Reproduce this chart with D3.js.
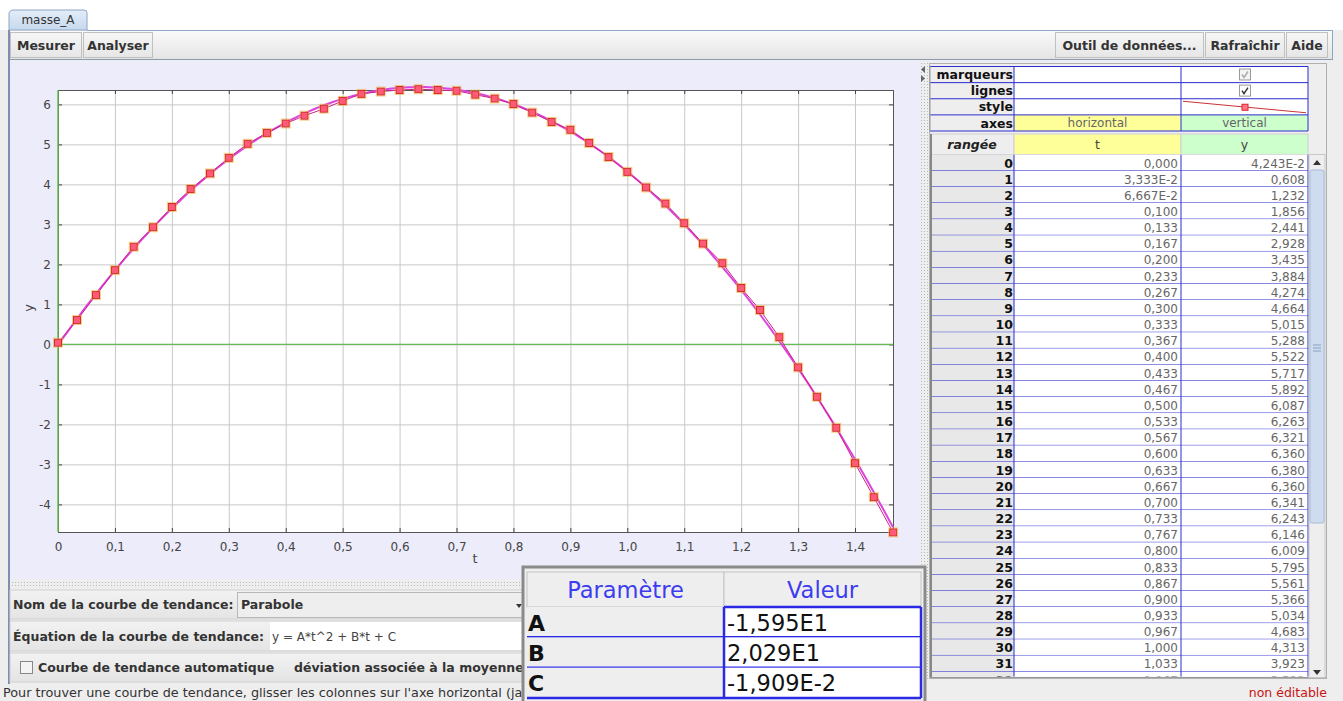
<!DOCTYPE html>
<html><head><meta charset="utf-8">
<script src="https://cdn.jsdelivr.net/npm/d3@7"></script>
<style>
body{margin:0;background:#fff;overflow:hidden}
svg{display:block;font-family:"DejaVu Sans",sans-serif}
</style></head><body>
<svg id="c" width="1343" height="701"></svg>
<script>
// ---------------- data ----------------
const tValues = [0,0.03333,0.06667,0.100,0.133,0.167,0.200,0.233,0.267,0.300,0.333,0.367,0.400,0.433,0.467,0.500,0.533,0.567,0.600,0.633,0.667,0.700,0.733,0.767,0.800,0.833,0.867,0.900,0.933,0.967,1.000,1.033,1.067,1.100,1.133,1.167,1.200,1.233,1.267,1.300,1.333,1.367,1.400,1.433,1.467];
const yValues = [0.04243,0.608,1.232,1.856,2.441,2.928,3.435,3.884,4.274,4.664,5.015,5.288,5.522,5.717,5.892,6.087,6.263,6.321,6.360,6.380,6.360,6.341,6.243,6.146,6.009,5.795,5.561,5.366,5.034,4.683,4.313,3.923,3.522,3.030,2.520,2.030,1.410,0.860,0.180,-0.575,-1.310,-2.085,-2.970,-3.820,-4.700];
const xTicks = [0,0.1,0.2,0.3,0.4,0.5,0.6,0.7,0.8,0.9,1.0,1.1,1.2,1.3,1.4];
const xTickLabels = ["0","0,1","0,2","0,3","0,4","0,5","0,6","0,7","0,8","0,9","1,0","1,1","1,2","1,3","1,4"];
const yTicks = [-4,-3,-2,-1,0,1,2,3,4,5,6];
const yTickLabels = ["-4","-3","-2","-1","0","1","2","3","4","5","6"];
const paramNames = ["A","B","C"];
const paramValues = [-15.95, 20.29, -0.01909];
const headerRows = ["marqueurs","lignes","style","axes"];

// ---------------- helpers ----------------
function fmtE(v){
  const e = Math.floor(Math.log10(Math.abs(v)));
  let m = v/Math.pow(10,e);
  return m.toFixed(3).replace(".",",")+"E"+e;
}
function fmtCell(v){
  if(v===0) return "0,000";
  if(Math.abs(v)<0.1) return fmtE(v);
  return v.toFixed(3).replace(".",",");
}

const svg = d3.select("#c");
const defs = svg.append("defs");
function grad(id, c1, c2){
  const g = defs.append("linearGradient").attr("id",id).attr("x1",0).attr("y1",0).attr("x2",0).attr("y2",1);
  g.append("stop").attr("offset","0%").attr("stop-color",c1);
  g.append("stop").attr("offset","100%").attr("stop-color",c2);
}
grad("gTab","#e3edf8","#c6d9ee");
grad("gBar","#fafafa","#e4e4e4");
grad("gBtn","#f6f6f6","#e6e6e6");
grad("gRow","#f2f2f2","#e4e4e4");
const dots = defs.append("pattern").attr("id","dots").attr("width",3).attr("height",3).attr("patternUnits","userSpaceOnUse");
dots.append("rect").attr("width",3).attr("height",3).attr("fill","#eeeeee");
dots.append("rect").attr("width",1).attr("height",1).attr("fill","#b8b8b8");

// ---------------- window background ----------------
svg.append("rect").attr("width",1343).attr("height",701).attr("fill","#eeeeee");
svg.append("rect").attr("width",1343).attr("height",30).attr("fill","#ffffff");

// tab
svg.append("path").attr("d","M9,30 L9,14 Q9,10 14,10 L84,10 Q87,10 87,13 L87,30 Z")
  .attr("fill","url(#gTab)").attr("stroke","#8ea6c6");
svg.append("text").attr("x",48).attr("y",24).attr("text-anchor","middle")
  .attr("font-size",12).attr("fill","#333").text("masse_A");
svg.append("line").attr("x1",87).attr("x2",1333).attr("y1",30.5).attr("y2",30.5).attr("stroke","#8ea6c6");

// toolbar
svg.append("rect").attr("x",9).attr("y",31).attr("width",1323).attr("height",28).attr("fill","url(#gBar)");
svg.append("line").attr("x1",9).attr("x2",1332).attr("y1",59.5).attr("y2",59.5).attr("stroke","#8c9ab0");
const buttons = [["Mesurer",10,81],["Analyser",83,152],["Outil de données...",1055,1203],["Rafraîchir",1205,1284],["Aide",1286,1327]];
buttons.forEach(b=>{
  svg.append("rect").attr("x",b[1]+0.5).attr("y",32.5).attr("width",b[2]-b[1]).attr("height",25)
    .attr("fill","url(#gBtn)").attr("stroke","#c0c0c0");
  svg.append("text").attr("x",(b[1]+b[2])/2+0.5).attr("y",50).attr("text-anchor","middle")
    .attr("font-size",12.5).attr("font-weight","bold").attr("fill","#333").text(b[0]);
});
svg.append("line").attr("x1",1332.5).attr("x2",1332.5).attr("y1",30).attr("y2",60).attr("stroke","#8ea6c6");

// left frame line
svg.append("line").attr("x1",9).attr("x2",9).attr("y1",30).attr("y2",684).attr("stroke","#7e8eb0").attr("stroke-width",2);

// ---------------- plot panel ----------------
svg.append("rect").attr("x",10).attr("y",61).attr("width",910).attr("height",518).attr("fill","#ececfa");
const L=58, R=893, T=90, B=532;
const x = d3.scaleLinear().domain([0,1.4667]).range([L,R]);
const y = d3.scaleLinear().domain([-4.69,6.36]).range([B,T]);
svg.append("rect").attr("x",L).attr("y",T).attr("width",R-L).attr("height",B-T).attr("fill","#fff");

// grid
svg.append("g").attr("transform",`translate(0,${B})`)
  .call(d3.axisBottom(x).tickValues(xTicks.slice(1)).tickSize(-(B-T)).tickFormat(""))
  .call(g=>{g.select(".domain").remove();g.selectAll("line").attr("stroke","#c8c8c8");});
svg.append("g").attr("transform",`translate(${L},0)`)
  .call(d3.axisLeft(y).tickValues(yTicks).tickSize(-(R-L)).tickFormat(""))
  .call(g=>{g.select(".domain").remove();g.selectAll("line").attr("stroke","#c8c8c8");});

// axes with labels (inward ticks)
const axB = svg.append("g").attr("transform",`translate(0,${B})`)
  .call(d3.axisBottom(x).tickValues(xTicks).tickSize(-4).tickPadding(10).tickFormat((d,i)=>xTickLabels[i]));
const axL = svg.append("g").attr("transform",`translate(${L},0)`)
  .call(d3.axisLeft(y).tickValues(yTicks).tickSize(-4).tickPadding(7).tickFormat((d,i)=>yTickLabels[i]));
const axT = svg.append("g").attr("transform",`translate(0,${T})`)
  .call(d3.axisTop(x).tickValues(xTicks).tickSize(-4).tickFormat(""));
const axR = svg.append("g").attr("transform",`translate(${R},0)`)
  .call(d3.axisRight(y).tickValues(yTicks).tickSize(-4).tickFormat(""));
[axB,axL,axT,axR].forEach(g=>{
  g.select(".domain").attr("stroke","#555");
  g.selectAll(".tick line").attr("stroke","#444");
  g.selectAll("text").attr("font-family","DejaVu Sans").attr("font-size",12).attr("fill","#444");
});
// zero lines (green)
svg.append("line").attr("x1",x(0)).attr("x2",x(0)).attr("y1",T).attr("y2",B).attr("stroke","#66bb55").attr("stroke-width",1.5);
svg.append("line").attr("x1",L).attr("x2",R).attr("y1",y(0)).attr("y2",y(0)).attr("stroke","#66bb55").attr("stroke-width",1.2);

// axis titles
svg.append("text").attr("x",475).attr("y",563).attr("text-anchor","middle").attr("font-size",13).attr("fill","#444").text("t");
svg.append("text").attr("transform","translate(33,308) rotate(-90)").attr("text-anchor","middle").attr("font-size",13).attr("fill","#444").text("y");

// data + fit
const pts = tValues.map((t,i)=>[t,yValues[i]]);
const fitT = d3.range(0,1.4667+1e-9,1.4667/200);
const fitPts = fitT.map(t=>[t,paramValues[0]*t*t+paramValues[1]*t+paramValues[2]]);
const line = d3.line().x(d=>x(d[0])).y(d=>y(d[1]));
svg.append("path").attr("d",line(fitPts)).attr("fill","none").attr("stroke","#dd44dd").attr("stroke-width",2);
svg.append("path").attr("d",line(pts)).attr("fill","none").attr("stroke","#cc2288").attr("stroke-width",1);
svg.append("g").selectAll("rect").data(pts).join("rect")
  .attr("x",d=>x(d[0])-3.5).attr("y",d=>y(d[1])-3.5).attr("width",7).attr("height",7)
  .attr("fill","#ff5a78").attr("stroke","#d0302a").attr("stroke-width",1);
svg.append("g").selectAll("rect").data(pts).join("rect")
  .attr("x",d=>x(d[0])-4.5).attr("y",d=>y(d[1])-4.5).attr("width",9).attr("height",9)
  .attr("fill","none").attr("stroke","#f0b040").attr("stroke-opacity",0.6).attr("stroke-width",1);

// ---------------- divider strips ----------------
svg.append("rect").attr("x",920).attr("y",61).attr("width",8).attr("height",620).attr("fill","url(#dots)");
svg.append("path").attr("d","M925,66 L921,69.5 L925,73 Z").attr("fill","#666");
svg.append("path").attr("d","M921,75 L925,78.5 L921,82 Z").attr("fill","#666");
svg.append("rect").attr("x",10).attr("y",580).attr("width",512).attr("height",6).attr("fill","url(#dots)");

// ---------------- bottom panel ----------------
svg.append("rect").attr("x",10).attr("y",590).attr("width",513).attr("height",29).attr("fill","url(#gRow)").attr("stroke","#d0d0d0");
svg.append("text").attr("x",13).attr("y",609).attr("font-size",12.5).attr("font-weight","bold").attr("fill","#333").text("Nom de la courbe de tendance:");
svg.append("rect").attr("x",237.5).attr("y",592.5).attr("width",290).attr("height",25).attr("fill","#eeeeee").attr("stroke","#b8b8b8");
svg.append("text").attr("x",241).attr("y",609).attr("font-size",12.5).attr("font-weight","bold").attr("fill","#333").text("Parabole");
svg.append("path").attr("d","M516,604 L522,604 L519,608 Z").attr("fill","#333");

svg.append("rect").attr("x",10).attr("y",621).attr("width",513).attr("height",30).attr("fill","url(#gRow)").attr("stroke","#d0d0d0");
svg.append("text").attr("x",13).attr("y",641).attr("font-size",12.5).attr("font-weight","bold").attr("fill","#333").text("Équation de la courbe de tendance:");
svg.append("rect").attr("x",270).attr("y",622).attr("width",258).attr("height",28).attr("fill","#ffffff");
svg.append("text").attr("x",272).attr("y",641).attr("font-size",12).attr("fill","#444").text("y = A*t^2 + B*t + C");

svg.append("rect").attr("x",10).attr("y",653).attr("width",513).attr("height",29).attr("fill","url(#gRow)").attr("stroke","#d0d0d0");
svg.append("rect").attr("x",20.5).attr("y",661.5).attr("width",12).attr("height",12).attr("fill","#f4f4f4").attr("stroke","#888");
svg.append("text").attr("x",38).attr("y",672).attr("font-size",12.5).attr("font-weight","bold").attr("fill","#333").text("Courbe de tendance automatique");
svg.append("text").attr("x",294).attr("y",672).attr("font-size",12.5).attr("font-weight","bold").attr("fill","#333").text("déviation associée à la moyenne");

svg.append("rect").attr("x",0).attr("y",684).attr("width",930).attr("height",17).attr("fill","#eeeeee");
svg.append("text").attr("x",3).attr("y",697).attr("font-size",12.8).attr("fill","#333").text("Pour trouver une courbe de tendance, glisser les colonnes sur l'axe horizontal (ja");

// ---------------- parameter table ----------------
const pt = svg.append("g");
pt.append("rect").attr("x",523).attr("y",567).attr("width",402).attr("height",136).attr("fill","#eeeeee").attr("stroke","#8a8a8a").attr("stroke-width",3);
const pc0=527, pc1=724, pc2=921;
pt.append("rect").attr("x",pc0).attr("y",572).attr("width",pc1-pc0).attr("height",35).attr("fill","#eeeeee").attr("stroke","#c4c4c4");
pt.append("rect").attr("x",pc1).attr("y",572).attr("width",pc2-pc1).attr("height",35).attr("fill","#eeeeee").attr("stroke","#c4c4c4");
pt.append("text").attr("x",(pc0+pc1)/2).attr("y",598).attr("text-anchor","middle").attr("font-size",22.5).attr("fill","#3c3cf0").text("Paramètre");
pt.append("text").attr("x",(pc1+pc2)/2).attr("y",598).attr("text-anchor","middle").attr("font-size",22.5).attr("fill","#3c3cf0").text("Valeur");
const prow = d3.scaleBand().domain(paramNames).range([607,698]);
paramNames.forEach((n,i)=>{
  const yy = prow(n), h = prow.bandwidth();
  pt.append("rect").attr("x",pc0).attr("y",yy).attr("width",pc1-pc0).attr("height",h).attr("fill","#eeeeee");
  pt.append("rect").attr("x",pc1).attr("y",yy).attr("width",pc2-pc1).attr("height",h).attr("fill","#ffffff");
  pt.append("text").attr("x",pc0+1).attr("y",yy+h/2+8.5).attr("font-size",22).attr("font-weight","bold").attr("fill","#111").text(n);
  pt.append("text").attr("x",pc1+3).attr("y",yy+h/2+8.5).attr("font-size",22.5).attr("fill","#111").text(fmtE(paramValues[i]));
  pt.append("line").attr("x1",pc0).attr("x2",pc2).attr("y1",yy+h).attr("y2",yy+h).attr("stroke","#2a2ae6").attr("stroke-width",2.5);
});
pt.append("line").attr("x1",pc1).attr("x2",pc1).attr("y1",607).attr("y2",698).attr("stroke","#2a2ae6").attr("stroke-width",2.5);
pt.append("line").attr("x1",pc2).attr("x2",pc2).attr("y1",607).attr("y2",698).attr("stroke","#2a2ae6").attr("stroke-width",2.5);
pt.append("line").attr("x1",pc1).attr("x2",pc2).attr("y1",607).attr("y2",607).attr("stroke","#2a2ae6").attr("stroke-width",2.5);

// ---------------- data table ----------------
const tb = svg.append("g");
const c0=930, c1=1014, c2=1181, c3=1308, c4=1324;
const blue="#2c2cd0";
tb.append("rect").attr("x",928).attr("y",61).attr("width",404).attr("height",620).attr("fill","#eeeeee");
tb.append("rect").attr("x",929.5).attr("y",63.5).attr("width",397).attr("height",615).attr("fill","none").attr("stroke","#b0b0b0");
// header rows
const hy = d3.scaleBand().domain(headerRows).range([66.5,131]);
headerRows.forEach((r,i)=>{
  const yy=hy(r), h=hy.bandwidth();
  tb.append("rect").attr("x",c0).attr("y",yy).attr("width",c1-c0).attr("height",h).attr("fill","#eeeeee");
  tb.append("rect").attr("x",c1).attr("y",yy).attr("width",c2-c1).attr("height",h).attr("fill", r==="axes"?"#ffff99":"#ffffff");
  tb.append("rect").attr("x",c2).attr("y",yy).attr("width",c3-c2).attr("height",h).attr("fill", r==="axes"?"#ccffcc":"#ffffff");
  tb.append("text").attr("x",c1-1).attr("y",yy+h-3.5).attr("text-anchor","end").attr("font-size",12.5).attr("font-weight","bold").attr("fill","#111").text(r);
});
// header row contents
tb.append("text").attr("x",(c1+c2)/2).attr("y",hy("axes")+12.5).attr("text-anchor","middle").attr("font-size",12).attr("fill","#666").text("horizontal");
tb.append("text").attr("x",(c2+c3)/2).attr("y",hy("axes")+12.5).attr("text-anchor","middle").attr("font-size",12).attr("fill","#666").text("vertical");
[["marqueurs","#aaa","#f4f4f4"],["lignes","#333","#ffffff"]].forEach(cb=>{
  const yy=hy(cb[0]);
  tb.append("rect").attr("x",1239.5).attr("y",yy+2.5).attr("width",11).attr("height",11).attr("fill",cb[2]).attr("stroke","#999");
  tb.append("path").attr("d",`M1242,${yy+8} L1244,${yy+11} L1248,${yy+5}`).attr("fill","none").attr("stroke",cb[1]).attr("stroke-width",1.5);
});
tb.append("line").attr("x1",c2+2).attr("x2",c3-2).attr("y1",hy("style")+2.5).attr("y2",hy("style")+14).attr("stroke","#cc3333");
tb.append("rect").attr("x",1242).attr("y",hy("style")+5.5).attr("width",6).attr("height",6).attr("fill","#ff7788").attr("stroke","#dd2222");
headerRows.forEach(r=>{
  tb.append("line").attr("x1",c0).attr("x2",c3).attr("y1",hy(r)+hy.bandwidth()).attr("y2",hy(r)+hy.bandwidth()).attr("stroke",blue);
});
tb.append("line").attr("x1",c0).attr("x2",c3).attr("y1",66.5).attr("y2",66.5).attr("stroke",blue);
[c1,c2,c3].forEach(cx=>tb.append("line").attr("x1",cx).attr("x2",cx).attr("y1",66.5).attr("y2",131).attr("stroke",blue));
tb.append("line").attr("x1",c0).attr("x2",c0).attr("y1",66.5).attr("y2",131).attr("stroke","#999");

// rangée row
tb.append("rect").attr("x",c0).attr("y",134).attr("width",c1-c0).attr("height",20.5).attr("fill","#eeeeee").attr("stroke","#cfcfcf");
tb.append("rect").attr("x",c1).attr("y",134).attr("width",c2-c1).attr("height",20.5).attr("fill","#ffff99").attr("stroke","#cfcfcf");
tb.append("rect").attr("x",c2).attr("y",134).attr("width",c3-c2).attr("height",20.5).attr("fill","#ccffcc").attr("stroke","#cfcfcf");
tb.append("text").attr("x",(c0+c1)/2).attr("y",149).attr("text-anchor","middle").attr("font-size",12.5).attr("font-weight","bold").attr("font-style","italic").attr("fill","#222").text("rangée");
tb.append("text").attr("x",(c1+c2)/2).attr("y",149).attr("text-anchor","middle").attr("font-size",12.5).attr("fill","#444").text("t");
tb.append("text").attr("x",(c2+c3)/2).attr("y",149).attr("text-anchor","middle").attr("font-size",12.5).attr("fill","#444").text("y");

// data rows
defs.append("clipPath").attr("id","tclip").append("rect").attr("x",c0).attr("y",154.5).attr("width",c3-c0+1).attr("height",522);
const rowsG = tb.append("g").attr("clip-path","url(#tclip)");
const rowH = 16.16, row0 = 154.5;
tValues.forEach((t,i)=>{
  const yy = row0 + i*rowH;
  if(yy>680) return;
  rowsG.append("rect").attr("x",c0).attr("y",yy).attr("width",c1-c0).attr("height",rowH).attr("fill","#e8e8e8");
  rowsG.append("rect").attr("x",c1).attr("y",yy).attr("width",c3-c1).attr("height",rowH).attr("fill","#ffffff");
  rowsG.append("text").attr("x",c1-1).attr("y",yy+13).attr("text-anchor","end").attr("font-size",12.5).attr("font-weight","bold").attr("fill","#111").text(i);
  rowsG.append("text").attr("x",c2-3).attr("y",yy+13).attr("text-anchor","end").attr("font-size",12).attr("fill","#666").text(fmtCell(t));
  rowsG.append("text").attr("x",c3-3).attr("y",yy+13).attr("text-anchor","end").attr("font-size",12).attr("fill","#666").text(fmtCell(yValues[i]));
  rowsG.append("line").attr("x1",c0).attr("x2",c3).attr("y1",yy+rowH).attr("y2",yy+rowH).attr("stroke",blue);
});
[c1,c2,c3].forEach(cx=>rowsG.append("line").attr("x1",cx).attr("x2",cx).attr("y1",154.5).attr("y2",678).attr("stroke",blue));
tb.append("line").attr("x1",c0+1).attr("x2",c0+1).attr("y1",134).attr("y2",678).attr("stroke","#888").attr("stroke-width",2);
tb.append("line").attr("x1",c0).attr("x2",c4+2).attr("y1",677.5).attr("y2",677.5).attr("stroke","#999");

// scrollbar
tb.append("rect").attr("x",c3+1).attr("y",154.5).attr("width",c4-c3).attr("height",523).attr("fill","#eeeeee").attr("stroke","#c8c8c8");
tb.append("rect").attr("x",c3+2).attr("y",170).attr("width",c4-c3-2).attr("height",353).attr("rx",2).attr("fill","#cddcee").attr("stroke","#a8bcd6");
[-3,0,3].forEach(o=>tb.append("line").attr("x1",c3+5).attr("x2",c4-3).attr("y1",348+o).attr("y2",348+o).attr("stroke","#8aa0c0"));
tb.append("path").attr("d",`M${c3+5},165 L${c4-3},165 L${(c3+c4)/2+1},160 Z`).attr("fill","#333");
tb.append("path").attr("d",`M${c3+5},670 L${c4-3},670 L${(c3+c4)/2+1},675 Z`).attr("fill","#333");

svg.append("text").attr("x",1327).attr("y",697).attr("text-anchor","end").attr("font-size",12.5).attr("fill","#cc1111").text("non éditable");
</script>
</body></html>
